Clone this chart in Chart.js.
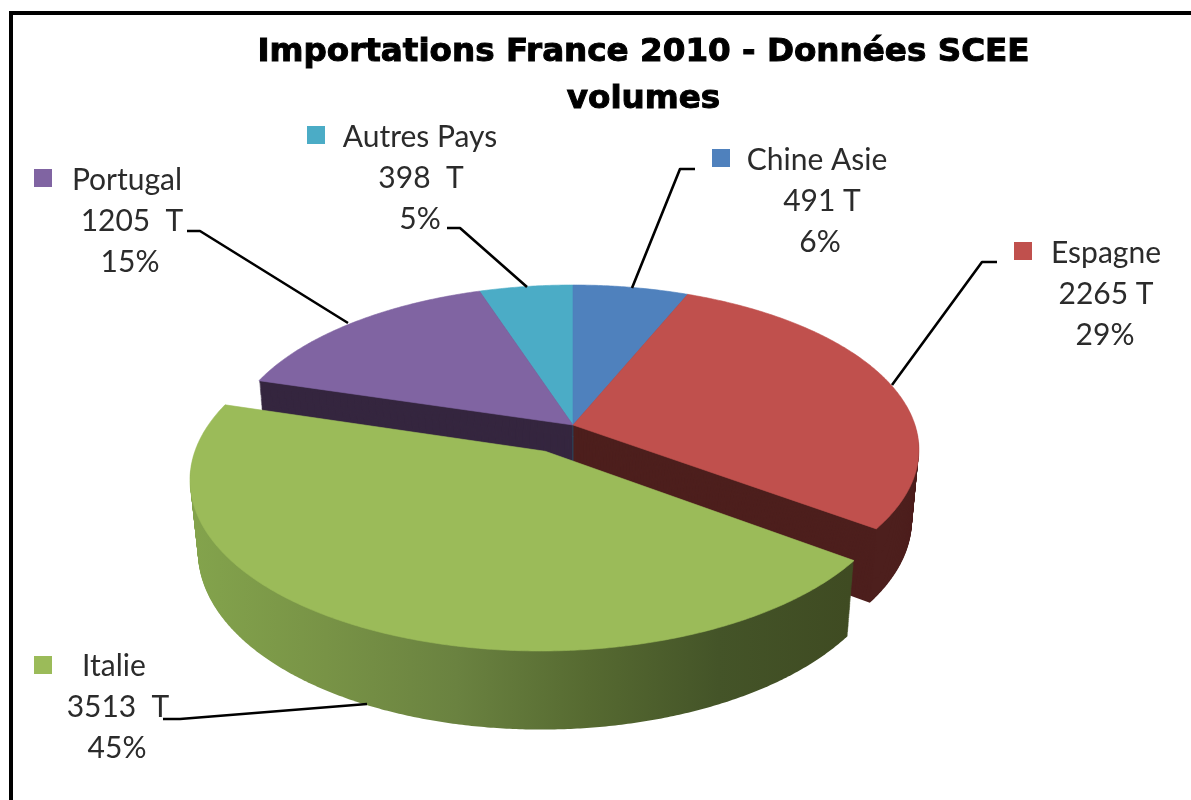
<!DOCTYPE html>
<html lang="fr"><head><meta charset="utf-8"><title>Importations France 2010</title>
<style>html,body{margin:0;padding:0;background:#fff}canvas{display:block}</style>
<script src="https://cdn.jsdelivr.net/npm/chart.js@4/dist/chart.umd.min.js"></script>
</head><body><canvas id="c" width="1191" height="800"></canvas>
<script>
// --- data ---
const categories = ['Chine Asie', 'Espagne', 'Italie', 'Portugal', 'Autres Pays'];
const tonnages = [491, 2265, 3513, 1205, 398];
const valueLabels = ['491 T', '2265 T', '3513  T', '1205  T', '398  T'];
const percentLabels = ['6%', '29%', '45%', '15%', '5%'];
const titleLines = ['Importations France 2010 - Données SCEE', 'volumes'];

// --- style ---
const topColors = ['#4f81bd', '#c0504d', '#9bbb59', '#8064a2', '#4bacc6'];
const wallColors = ['#2a4566', '#4d1f1d', '#3f4b22', '#35263f', '#285d6b'];
const explode = [0, 0, 0.178, 0, 0];
const view = {cx: 573, cy: 425, rx: 342, ry: 161, p: 0.15, depth: 71, q: 0.02};
// label layout: square [x,y], line centres, first baseline, leader polyline
const labelLayout = [
  {sq: [712, 149], xs: [817, 822, 820], y: 170, lead: [[695,169],[680,169],[632,288]]},
  {sq: [1014, 242], xs: [1106, 1106, 1105], y: 263, lead: [[997,262],[982,262],[892,385]]},
  {sq: [34, 656], xs: [114, 118, 117], y: 676, lead: [[163,719],[180,719],[367,704]]},
  {sq: [34, 169], xs: [127, 132, 130], y: 190, lead: [[187,231],[200,231],[348,323]]},
  {sq: [307, 126], xs: [420, 421, 420], y: 147, lead: [[447,228],[460,228],[527,287]]}
];

function project(u, v, z) {
  const w = 1 - view.p * v + view.q * z;
  return [view.cx + view.rx * u / w, view.cy + (view.ry * v + view.depth * z) / w];
}

// A drawing context handed to the library's arc element: it maps the element's
// flat path onto the tilted pie plane.
function tiltedContext(ctx, el, shift, z, fill, seal) {
  let tx = 0, ty = 0; const R = el.outerRadius;
  const pt = (x, y) => project((x + tx - el.x) / R + shift[0], (y + ty - el.y) / R + shift[1], z);
  const h = {
    save() { ctx.save(); }, restore() { ctx.restore(); },
    translate(x, y) { tx += x; ty += y; },
    beginPath() { ctx.beginPath(); }, closePath() { ctx.closePath(); },
    moveTo(x, y) { ctx.moveTo(...pt(x, y)); }, lineTo(x, y) { ctx.lineTo(...pt(x, y)); },
    arc(x, y, r, a0, a1) {
      const n = Math.max(2, Math.ceil(Math.abs(a1 - a0) / 0.008));
      for (let i = 0; i <= n; i++) { const a = a0 + (a1 - a0) * i / n; ctx.lineTo(...pt(x + r * Math.cos(a), y + r * Math.sin(a))); }
    },
    fill() {
      ctx.fillStyle = fill; ctx.fill();
      if (seal) { ctx.strokeStyle = fill; ctx.lineWidth = 0.6; ctx.stroke(); }
    }
  };
  return new Proxy({}, {
    get(_, k) { if (k in h) return h[k]; const v = ctx[k]; return typeof v === 'function' ? () => {} : v; },
    set() { return true; }
  });
}

const tiltedPie = {
  id: 'tiltedPie',
  beforeDraw(chart) {
    // the title face is heavier than any installed bold: outline it as it is drawn
    const ctx = chart.ctx;
    ctx.fillText = function (t, x, y, m) {
      ctx.lineWidth = 1; ctx.strokeStyle = '#000'; ctx.lineJoin = 'miter';
      CanvasRenderingContext2D.prototype.strokeText.call(ctx, t, x, y, m);
      CanvasRenderingContext2D.prototype.fillText.call(ctx, t, x, y, m);
    };
  },
  beforeDatasetDraw(chart) {
    const ctx = chart.ctx, arcs = chart.getDatasetMeta(0).data;
    delete ctx.fillText;
    const shiftOf = i => { const a = (arcs[i].startAngle + arcs[i].endAngle) / 2; return [Math.cos(a) * explode[i], Math.sin(a) * explode[i]]; };
    const side = ctx.createLinearGradient(195, 0, 850, 0);
    side.addColorStop(0, '#83a34c'); side.addColorStop(0.2, '#789346'); side.addColorStop(0.4, '#6a8240');
    side.addColorStop(0.6, '#566a31'); side.addColorStop(0.8, '#445428'); side.addColorStop(1, '#3f4b22');
    const N = 70;
    const slab = (i, fill) => { for (let s = N; s >= 1; s--) arcs[i].draw(tiltedContext(ctx, arcs[i], shiftOf(i), s / N, fill, false)); };
    const face = i => arcs[i].draw(tiltedContext(ctx, arcs[i], shiftOf(i), 0, topColors[i], true));
    [4, 0, 3, 1].forEach(i => slab(i, wallColors[i]));
    [4, 0, 3, 1].forEach(face);
    slab(2, side);
    face(2);
    return false;
  },
  afterDraw(chart) {
    const ctx = chart.ctx;
    ctx.save();
    // frame
    ctx.fillStyle = '#000';
    ctx.fillRect(9, 11, 1182, 4); ctx.fillRect(9, 11, 4, 789);
    // leaders
    ctx.strokeStyle = '#000'; ctx.lineWidth = 2.6; ctx.lineJoin = 'round';
    labelLayout.forEach(l => {
      ctx.beginPath(); l.lead.forEach((p, j) => j ? ctx.lineTo(p[0], p[1]) : ctx.moveTo(p[0], p[1])); ctx.stroke();
    });
    // labels
    ctx.font = '400 30px Lato, "Open Sans", sans-serif';
    ctx.textAlign = 'center'; ctx.textBaseline = 'alphabetic';
    labelLayout.forEach((l, i) => {
      ctx.fillStyle = topColors[i];
      ctx.fillRect(l.sq[0], l.sq[1], 18, 18);
      ctx.fillStyle = '#2b2b2b';
      [categories[i], valueLabels[i], percentLabels[i]].forEach((t, j) => ctx.fillText(t, l.xs[j], l.y + j * 41));
    });
    ctx.restore();
  }
};

new Chart(document.getElementById('c'), {
  type: 'pie',
  data: {labels: categories, datasets: [{data: tonnages, backgroundColor: topColors, borderWidth: 0}]},
  options: {
    responsive: false, animation: false, radius: view.rx,
    layout: {padding: {left: 96, top: 29}},
    plugins: {
      legend: {display: false}, tooltip: {enabled: false},
      title: {display: true, text: titleLines, color: '#000', align: 'center', padding: 0,
        font: {family: '"DejaVu Sans"', weight: 'bold', size: 32.6, lineHeight: 1.44}}
    }
  },
  plugins: [tiltedPie]
});
</script></body></html>
